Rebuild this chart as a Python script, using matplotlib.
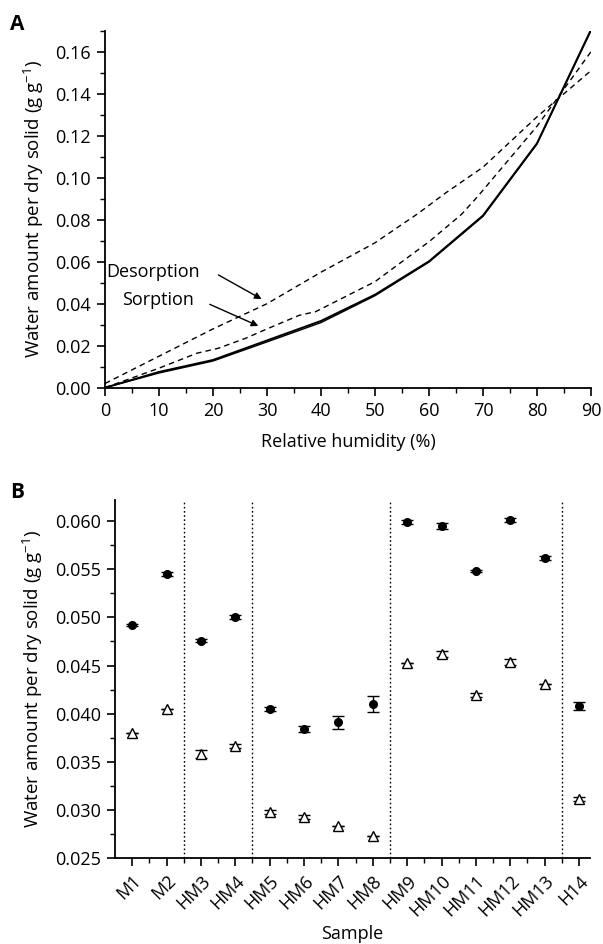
import matplotlib
matplotlib.use("Agg")
import matplotlib.pyplot as plt
from matplotlib.ticker import MultipleLocator
import numpy as np

plt.rcParams['font.family'] = ['Open Sans', 'DejaVu Sans']
plt.rcParams['mathtext.fontset'] = 'custom'
plt.rcParams['mathtext.rm'] = 'Open Sans'

# ---------------- Panel A data ----------------
rh_solid = [0, 10, 20, 30, 40, 50, 60, 70, 80, 90]
sorption_solid_1 = [0.0, 0.0075, 0.0132, 0.0225, 0.0318, 0.0443, 0.0602, 0.0820, 0.1164, 0.1705]
sorption_solid_2 = [0.0, 0.0070, 0.0127, 0.0218, 0.0310, 0.0438, 0.0598, 0.0816, 0.1160, 0.1700]

rh_sorp_dash = [0, 10, 17, 21, 26, 30, 36, 39, 50, 60, 66, 69, 80, 90]
sorption_dash = [0.0, 0.0093, 0.0164, 0.0188, 0.0235, 0.0280, 0.0345, 0.0362, 0.0505, 0.0695,
                 0.0825, 0.0910, 0.1245, 0.1600]

rh_desorp_dash = [0, 10, 20, 30, 40, 50, 58, 63, 70, 80, 90]
desorption_dash = [0.002, 0.015, 0.028, 0.040, 0.055, 0.069, 0.083, 0.0926, 0.105, 0.129, 0.151]

# ---------------- Panel B data ----------------
samples = ['M1', 'M2', 'HM3', 'HM4', 'HM5', 'HM6', 'HM7', 'HM8', 'HM9', 'HM10',
           'HM11', 'HM12', 'HM13', 'H14']
circle_vals = [0.0492, 0.0545, 0.0476, 0.0500, 0.0405, 0.0384, 0.0391, 0.0410, 0.0599,
               0.0595, 0.0548, 0.0601, 0.0562, 0.0408]
circle_err = [0.0001, 0.0002, 0.00015, 0.0002, 0.0002, 0.0003, 0.0007, 0.0008, 0.0002,
              0.0003, 0.0001, 0.0002, 0.0002, 0.0004]
triangle_vals = [0.0380, 0.0405, 0.0358, 0.0366, 0.0298, 0.0293, 0.0283, 0.0273, 0.0453,
                 0.0462, 0.0419, 0.0454, 0.0431, 0.0311]
triangle_err = [0.0, 0.0, 0.0004, 0.0002, 0.0002, 0.0002, 0.0, 0.0, 0.0,
                0.0003, 0.0002, 0.0003, 0.0, 0.0002]
group_boundaries = [1.5, 3.5, 7.5, 12.5]

ylabel = 'Water amount per dry solid (g g$^{\\mathregular{-1}}$)'
FS = 13
YFS = 13.5

fig = plt.figure(figsize=(6.03, 9.44), dpi=100)

# ---------------- Panel A ----------------
axA = fig.add_axes([105/603, 1-387.7/944, 486/603, 357/944])
axA.plot(rh_solid, sorption_solid_1, color='black', lw=1.4, solid_joinstyle='miter')
axA.plot(rh_solid, sorption_solid_2, color='black', lw=1.0)
axA.plot(rh_sorp_dash, sorption_dash, color='black', lw=1.0, dashes=(4, 3))
axA.plot(rh_desorp_dash, desorption_dash, color='black', lw=1.0, dashes=(4, 3))
axA.set_xlim(0, 90)
axA.set_ylim(0, 0.17)
axA.xaxis.set_major_locator(MultipleLocator(10))
axA.xaxis.set_minor_locator(MultipleLocator(5))
axA.yaxis.set_major_locator(MultipleLocator(0.02))
axA.yaxis.set_minor_locator(MultipleLocator(0.01))
axA.yaxis.set_major_formatter(matplotlib.ticker.FormatStrFormatter('%.2f'))
for s in ['top', 'right']:
    axA.spines[s].set_visible(False)
for s in ['left', 'bottom']:
    axA.spines[s].set_linewidth(1.3)
axA.tick_params(which='major', direction='out', length=6, width=1.2, labelsize=FS, pad=4)
axA.tick_params(which='minor', direction='out', length=3.5, width=1.0)
axA.set_xlabel('Relative humidity (%)', fontsize=FS, labelpad=10)
axA.set_ylabel(ylabel, fontsize=YFS, labelpad=7)

axA.text(0.3, 0.0551, 'Desorption', fontsize=FS, ha='left', va='center')
axA.text(3.2, 0.0418, 'Sorption', fontsize=FS, ha='left', va='center')
axA.annotate('', xy=(29, 0.0422), xytext=(21, 0.0537),
             arrowprops=dict(arrowstyle='-|>', color='black', lw=1.0, mutation_scale=10,
                             shrinkA=0, shrinkB=0))
axA.annotate('', xy=(28.4, 0.0294), xytext=(19.4, 0.0397),
             arrowprops=dict(arrowstyle='-|>', color='black', lw=1.0, mutation_scale=10,
                             shrinkA=0, shrinkB=0))
fig.text(10/603, 1-25/944, 'A', fontsize=15, fontweight='bold', ha='left', va='center')

# ---------------- Panel B ----------------
axB = fig.add_axes([115/603, 1-858/944, 475/603, 358/944])
x = np.arange(len(samples))
for b in group_boundaries:
    axB.axvline(b, color='black', lw=1.0, ls=(0, (1.2, 1.8)))
axB.errorbar(x, circle_vals, yerr=circle_err, fmt='o', color='black', ms=5.5,
             capsize=4, elinewidth=1.0, capthick=1.0)
axB.errorbar(x, triangle_vals, yerr=triangle_err, fmt='^', color='black', mfc='white',
             mec='black', ms=7.5, mew=1.0, capsize=4, elinewidth=1.0, capthick=1.0)
axB.set_xlim(-0.5, 13.32)
axB.set_ylim(0.025, 0.0622)
axB.set_xticks(x)
axB.set_xticklabels(samples, rotation=45, ha='right', rotation_mode='anchor')
axB.xaxis.set_minor_locator(matplotlib.ticker.FixedLocator(x[:-1] + 0.5))
axB.yaxis.set_major_locator(MultipleLocator(0.005))
axB.yaxis.set_minor_locator(MultipleLocator(0.0025))
axB.yaxis.set_major_formatter(matplotlib.ticker.FormatStrFormatter('%.3f'))
for s in ['top', 'right']:
    axB.spines[s].set_visible(False)
for s in ['left', 'bottom']:
    axB.spines[s].set_linewidth(1.3)
axB.tick_params(which='major', direction='out', length=6, width=1.2, labelsize=FS, pad=4)
axB.tick_params(which='minor', direction='out', length=3.5, width=1.0)
axB.set_xlabel('Sample', fontsize=FS, labelpad=4)
axB.set_ylabel(ylabel, fontsize=YFS, labelpad=7)
fig.text(10/603, 1-492/944, 'B', fontsize=15, fontweight='bold', ha='left', va='center')

fig.savefig('out.png', dpi=100)
